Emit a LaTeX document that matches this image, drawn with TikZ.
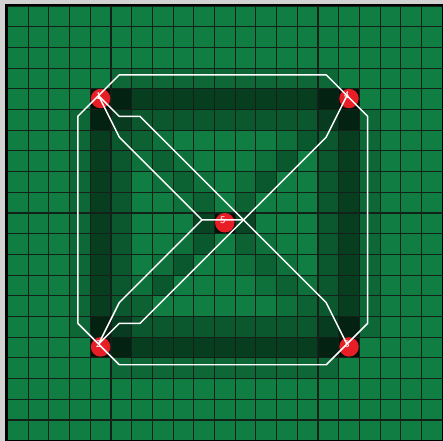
\documentclass[tikz,border=0pt]{standalone}
\usepackage{tikz}
\definecolor{campo}{RGB}{16,126,66}
\definecolor{rejilla}{RGB}{18,34,24}
\definecolor{parada}{RGB}{232,30,38}
\tikzset{
  celda/.style={fill=black,opacity=#1},
  ruta/.style={white,line width=1pt,line join=round},
  etiqueta/.style={text=white,font=\sffamily\fontsize{7}{7}\selectfont,inner sep=0pt}
}

\begin{document}
\begin{tikzpicture}[x=0.5cm,y=-0.5cm]
  \useasboundingbox[fill=gray!35] (-0.36,-0.29) rectangle (21.04,21.01);
  \fill[campo] (0,0) rectangle (21,21);
  % mapa de uso: bandas entre paradas de esquina
  \foreach \k in {5,...,15}{
    \fill[celda=.5] (\k,4) rectangle ++(1,1);
    \fill[celda=.5] (\k,16) rectangle ++(1,1);
    \fill[celda=.5] (4,\k) rectangle ++(1,1);
    \fill[celda=.5] (16,\k) rectangle ++(1,1);
    \fill[celda=.18] (\k,3) rectangle ++(1,1);
    \fill[celda=.18] (\k,17) rectangle ++(1,1);
    \fill[celda=.18] (3,\k) rectangle ++(1,1);
    \fill[celda=.18] (17,\k) rectangle ++(1,1);
    \fill[celda=.3] (\k,5) rectangle ++(1,1);
    \fill[celda=.3] (\k,15) rectangle ++(1,1);
    \fill[celda=.3] (5,\k) rectangle ++(1,1);
    \fill[celda=.3] (15,\k) rectangle ++(1,1);
  }
  % diagonales hacia el centro
  \foreach \k in {6,...,9,11,12,13,14}{
    \fill[celda=.22] (\k,\k) rectangle ++(1,1);
    \fill[celda=.22] (\k,20-\k) rectangle ++(1,1);
  }
  \foreach \k in {6,...,8,11,12,13}{
    \fill[celda=.1] (\k+1,\k) rectangle ++(1,1);
    \fill[celda=.1] (\k,\k+1) rectangle ++(1,1);
    \fill[celda=.1] (\k+1,19-\k) rectangle ++(1,1);
    \fill[celda=.1] (\k,20-\k-1) rectangle ++(1,1);
  }
  \foreach \c/\r in {5/4,4/5,15/4,16/5,4/15,5/16,15/16,16/15,9/10,11/10}
    \fill[celda=.45] (\c,\r) rectangle ++(1,1);
  \foreach \c/\r in {4/4,16/4,4/16,16/16,10/10}
    \fill[celda=.85] (\c,\r) rectangle ++(1,1);
  % rejilla y marco
  \foreach \k in {0,...,21}{
    \draw[rejilla,line width=0.75pt] (\k,0) -- (\k,21);
    \draw[rejilla,line width=0.75pt] (0,\k) -- (21,\k);
  }
  \draw[black,line width=2pt] (-0.05,-0.05) rectangle (21.05,21.05);
  % paradas
  \foreach \n/\x/\y in {1/4/4,2/4/16,3/16/16,4/16/4,5/10/10}{
    \fill[parada] (\x+0.5,\y+0.47) circle (0.47);
    \node[etiqueta] (n\n) at (\x+0.4,\y+0.33) {\n};
  }
  % recorridos
  \draw[ruta] (n1.center) -- (5.4,3.33) -- (15.4,3.33) -- (n4.center) -- (17.4,5.33)
    -- (17.4,15.33) -- (n3.center) -- (15.4,17.33) -- (5.4,17.33) -- (n2.center)
    -- (3.4,15.33) -- (3.4,5.33) -- cycle;
  \draw[ruta] (n1.center) -- (5.4,5.33) -- (6.4,5.33) -- (15.4,14.33) -- (n3.center);
  \draw[ruta] (n1.center) -- (5.4,6.33) -- (9.4,10.33) -- (n5.center) -- (11.4,10.33);
  \draw[ruta] (9.4,10.33) -- (5.4,14.33) -- (n2.center);
  \draw[ruta] (n4.center) -- (15.4,6.33) -- (6.4,15.33) -- (5.4,15.33) -- (n2.center);
\end{tikzpicture}
\end{document}
